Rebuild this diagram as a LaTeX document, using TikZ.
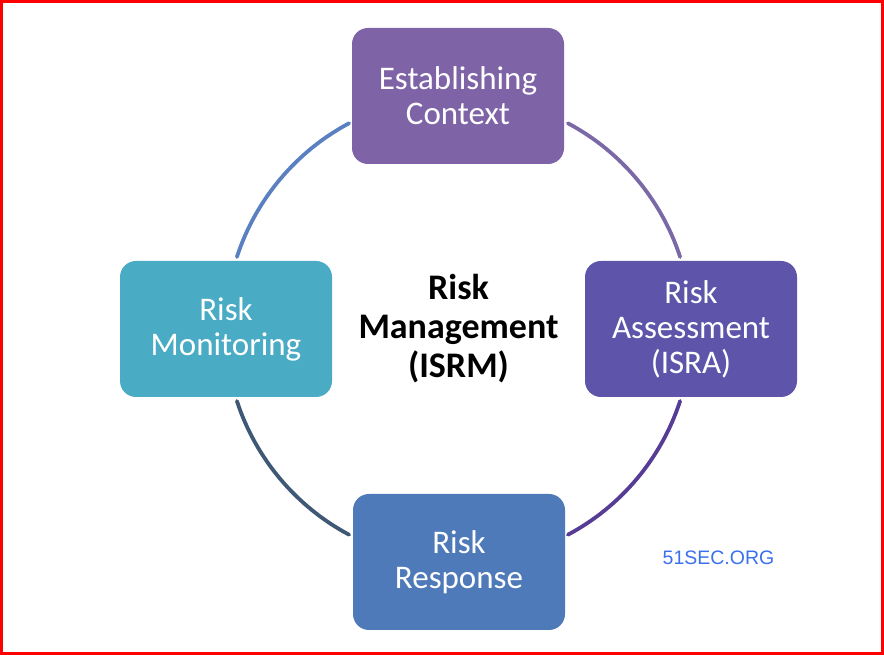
\documentclass[tikz,border=0pt]{standalone}
\usepackage{fontspec}
\setmainfont{Carlito}
\newfontfamily\markfont{Liberation Sans}
\definecolor{ctxfill}{HTML}{7F63A7}
\definecolor{assfill}{HTML}{5E55AB}
\definecolor{resfill}{HTML}{4F7AB9}
\definecolor{monfill}{HTML}{4AABC4}
\definecolor{ringA}{HTML}{5B80C2}
\definecolor{ringB}{HTML}{7B68A6}
\definecolor{ringC}{HTML}{573C95}
\definecolor{ringD}{HTML}{3E5876}
\definecolor{markblue}{HTML}{3A6FEE}
\begin{document}
\begin{tikzpicture}[x=1pt,y=1pt]
  \tikzstyle{stage}=[rounded corners=16pt,minimum width=212pt,minimum height=136pt,align=center,text=white,font=\fontsize{33}{35}\selectfont]
  \tikzstyle{ring}=[line width=3.8pt,line cap=round,bend left=22,looseness=.88]
  \useasboundingbox (0,0) rectangle (884,655);
  \draw [red,line width=3pt] (1.5,1.5) rectangle (882.5,653.5);
  \node (hub) at (458.5,326) [align=center,font=\bfseries\fontsize{36}{39}\selectfont] {Risk\\Management\\(ISRM)};
  \node (ctx) at (458,559) [stage,fill=ctxfill] {Establishing\\Context};
  \node (ass) at (691,326) [stage,fill=assfill] {Risk\\Assessment\\(ISRA)};
  \node (res) at (459,93)  [stage,fill=resfill] {Risk\\Response};
  \node (mon) at (226,326) [stage,fill=monfill] {Risk\\Monitoring};
  \foreach \n/\a in {a1/162,a2/118,b1/62,b2/18,c1/-18,c2/-62,d1/-118,d2/-162}
    \coordinate (\n) at ([shift={(\a:233)}]hub.center);
  \draw [ring,draw=ringA] (a1) to (a2);
  \draw [ring,draw=ringB] (b1) to (b2);
  \draw [ring,draw=ringC] (c1) to (c2);
  \draw [ring,draw=ringD] (d1) to (d2);
  \node (mark) at (718.5,97) [font=\markfont\fontsize{19.5}{22}\selectfont,text=markblue] {51SEC.ORG};
\end{tikzpicture}
\end{document}
